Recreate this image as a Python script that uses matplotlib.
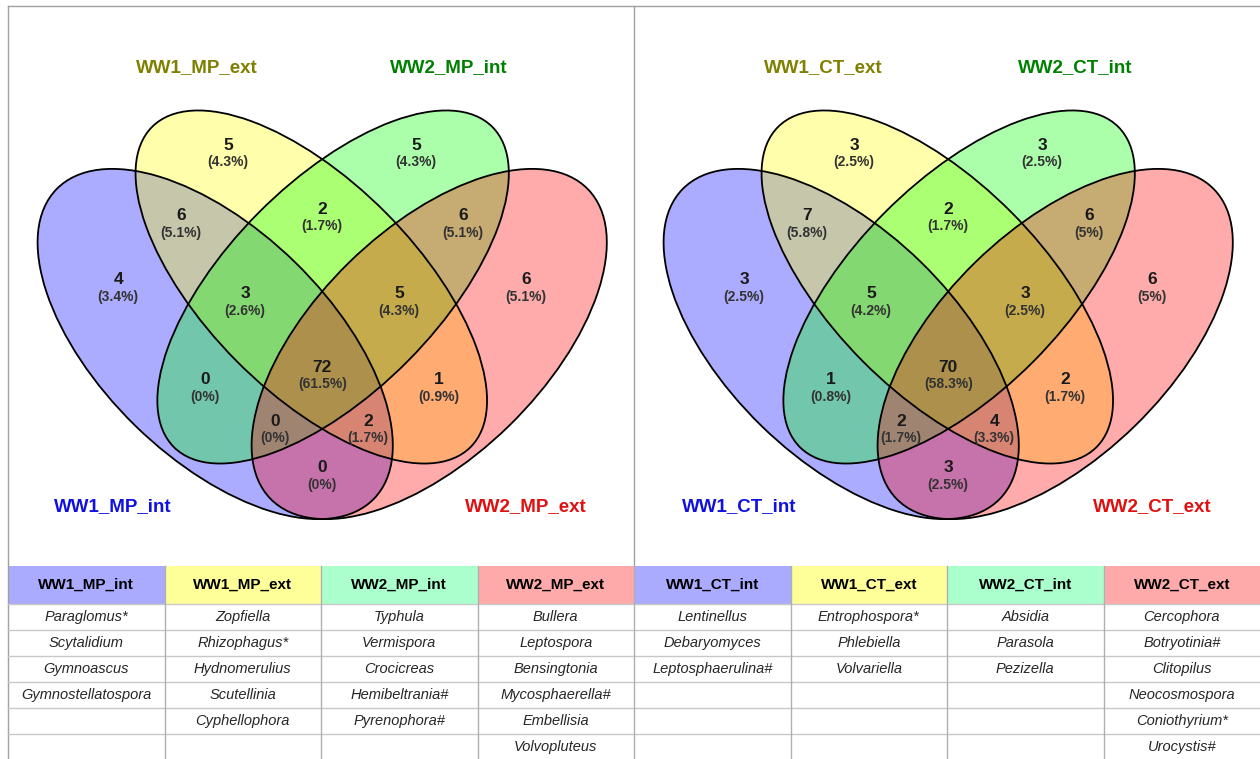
import matplotlib.pyplot as plt
from matplotlib.patches import Ellipse, Rectangle

plt.rcParams['font.family'] = ['Liberation Sans', 'DejaVu Sans']

# ---- data ----
# region order: A, B, C, D, AB, BC, CD, ABC, BCD, AC, BD, ABCD, ACD, ABD, AD
# A = WW1 int, B = WW1 ext, C = WW2 int, D = WW2 ext
regions = ["A", "B", "C", "D", "AB", "BC", "CD", "ABC", "BCD", "AC", "BD", "ABCD", "ACD", "ABD", "AD"]

sets_mp = ["WW1_MP_int", "WW1_MP_ext", "WW2_MP_int", "WW2_MP_ext"]
counts_mp = [4, 5, 5, 6, 6, 2, 6, 3, 5, 0, 1, 72, 0, 2, 0]

sets_ct = ["WW1_CT_int", "WW1_CT_ext", "WW2_CT_int", "WW2_CT_ext"]
counts_ct = [3, 3, 3, 6, 7, 2, 6, 5, 3, 1, 2, 70, 2, 4, 3]

genera_mp = [
    ["Paraglomus*", "Scytalidium", "Gymnoascus", "Gymnostellatospora"],
    ["Zopfiella", "Rhizophagus*", "Hydnomerulius", "Scutellinia", "Cyphellophora"],
    ["Typhula", "Vermispora", "Crocicreas", "Hemibeltrania#", "Pyrenophora#"],
    ["Bullera", "Leptospora", "Bensingtonia", "Mycosphaerella#", "Embellisia", "Volvopluteus"],
]
genera_ct = [
    ["Lentinellus", "Debaryomyces", "Leptosphaerulina#"],
    ["Entrophospora*", "Phlebiella", "Volvariella"],
    ["Absidia", "Parasola", "Pezizella"],
    ["Cercophora", "Botryotinia#", "Clitopilus", "Neocosmospora", "Coniothyrium*", "Urocystis#"],
]

# ---- style / layout ----
set_colors = ["#0000ff", "#ffff00", "#00ff00", "#ff0000"]
label_colors = ["#1010e0", "#808000", "#008000", "#e01010"]
header_colors = ["#aaaaff", "#ffff99", "#aaffcc", "#ffaaaa"]

W, H = 1260, 759
cx = 322.2
# ellipse params relative to panel centre: dx, cy, a, b, angle (pixel space, y down)
ell = [(-107.0, 344.0, 221.7, 114.3, 44.3),
       (-10.9, 287.0, 225.8, 105.2, 45.2),
       (10.9, 287.0, 225.8, 105.2, -45.2),
       (107.0, 344.0, 221.7, 114.3, -44.3)]
# count label positions (dx from centre, y)
pos = {"A": (-204, 280), "B": (-94, 145), "C": (94, 145), "D": (204, 280),
       "AB": (-141, 216), "BC": (0, 209), "CD": (141, 216),
       "ABC": (-77, 294), "BCD": (77, 294), "AC": (-117, 380), "BD": (117, 380),
       "ABCD": (0, 367), "ACD": (-47, 421), "ABD": (46, 421), "AD": (0, 468)}
label_pos = [(-209, 507), (-125, 68), (127, 68), (204, 507)]


def pct(c, tot):
    s = f"{round(100 * c / tot, 1):.1f}"
    if s.endswith(".0"):
        s = s[:-2]
    return f"({s}%)"


fig = plt.figure(figsize=(W / 100, H / 100), dpi=100)
ax = fig.add_axes([0, 0, 1, 1])
ax.set_xlim(0, W)
ax.set_ylim(H, 0)
ax.axis('off')


def draw_venn(ox, names, counts):
    c0 = cx + ox
    for (dx, cy, a, b, ang), col in zip(ell, set_colors):
        ax.add_patch(Ellipse((c0 + dx, cy), 2 * a, 2 * b, angle=ang,
                             facecolor=col, alpha=0.33, edgecolor='none'))
    for (dx, cy, a, b, ang) in ell:
        ax.add_patch(Ellipse((c0 + dx, cy), 2 * a, 2 * b, angle=ang,
                             facecolor='none', edgecolor='black', lw=1.3))
    tot = sum(counts)
    for r, c in zip(regions, counts):
        dx, y = pos[r]
        ax.text(c0 + dx, y, str(c), ha='center', va='center',
                fontsize=12.5, fontweight='bold', color='#1a1a1a')
        ax.text(c0 + dx, y + 17, pct(c, tot), ha='center', va='center',
                fontsize=10, fontweight='bold', color='#333333')
    for (dx, y), n, col in zip(label_pos, names, label_colors):
        ax.text(c0 + dx, y, n, ha='center', va='center',
                fontsize=13.5, fontweight='bold', color=col)


draw_venn(0, sets_mp, counts_mp)
draw_venn(626, sets_ct, counts_ct)

# frame lines
frame_col = '#a0a0a0'
ax.plot([8, W], [6, 6], color=frame_col, lw=1)
ax.plot([8, 8], [6, H], color=frame_col, lw=1)
ax.plot([634, 634], [6, 566], color=frame_col, lw=1)

# ---- table ----
x0, colw = 8, (W - 8) / 8
top, head_h, row_h, nrows = 566, 38, 26, 6
headers = sets_mp + sets_ct
columns = genera_mp + genera_ct
for i, (hname, items) in enumerate(zip(headers, columns)):
    xl = x0 + i * colw
    ax.add_patch(Rectangle((xl, top), colw, head_h,
                           facecolor=header_colors[i % 4], edgecolor='none'))
    ax.text(xl + colw / 2, top + head_h / 2, hname, ha='center', va='center',
            fontsize=11, fontweight='bold', color='black')
    for j, g in enumerate(items):
        ax.text(xl + colw / 2, top + head_h + row_h * (j + 0.5), g,
                ha='center', va='center', fontsize=10.5, style='italic',
                color='#262626')
for k in range(nrows + 1):
    y = top + head_h + k * row_h
    ax.plot([x0, W], [y, y], color='#c8c8c8', lw=1)
for i in range(1, 8):
    xl = x0 + i * colw
    ax.plot([xl, xl], [top, H], color='#b0b0b0', lw=1)

fig.savefig("out.png", dpi=100)
